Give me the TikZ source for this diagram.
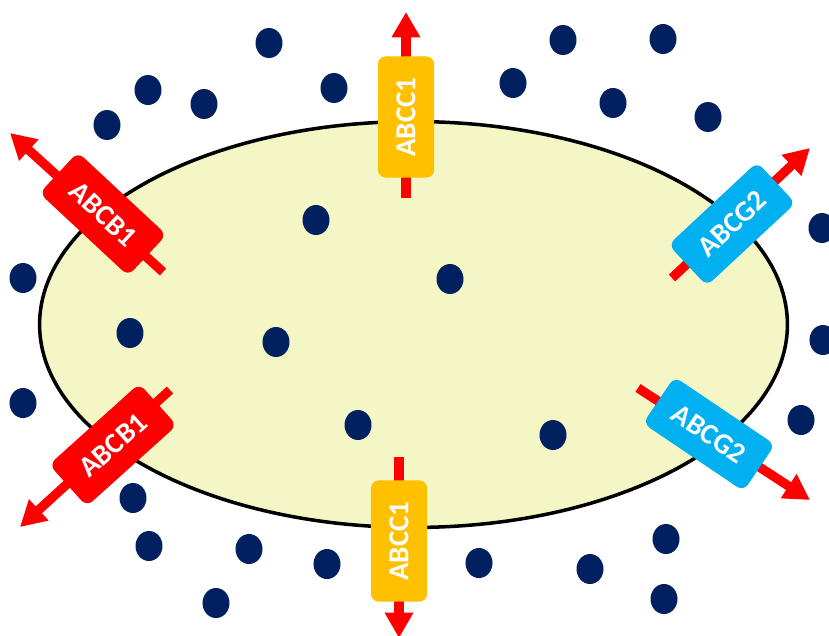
\documentclass[tikz,border=0pt]{standalone}
\usepackage{fontspec}
\setmainfont{Carlito}
\usetikzlibrary{arrows.meta}
\definecolor{cellfill}{HTML}{F5F6C6}
\definecolor{drug}{HTML}{002060}
\definecolor{efflux}{HTML}{FF0000}
\definecolor{pumpred}{HTML}{FF0000}
\definecolor{pumpyellow}{HTML}{FFC000}
\definecolor{pumpblue}{HTML}{00B0F0}

\begin{document}
\begin{tikzpicture}[x=0.02cm, y=-0.02cm,
  pump/.style={rectangle, rounded corners=4.5pt, minimum width=69pt,
    minimum height=32pt, inner sep=0pt, text=white,
    font=\fontsize{16.5}{18}\selectfont\bfseries},
  flow/.style={draw=efflux, line width=5.3pt,
    -{Triangle[width=15.5pt, length=14.5pt]}},
  molecule/.style={fill=drug}]
\useasboundingbox (0,0) rectangle (829,636);
\fill[white] (0,0) rectangle (829,636);

% the cell
\draw[fill=cellfill, line width=2pt] (413.5,324.5)
  ellipse [x radius=7.48cm, y radius=4.06cm];

% drug molecules, inside and outside the cell
\foreach \px/\py in {316/220, 450/279, 130/333, 276/342, 358/425, 553/435,
    269/43, 563/40, 663/39, 148/90, 204/104, 334/88, 513/83, 613/103, 708/117,
    107/125, 23/278, 23/403, 822/228, 823/340, 801/420,
    133/498, 149/546, 249/549, 327/564, 216/603, 479/563, 590/569,
    666/539, 664/599}
  \fill[molecule] (\px,\py) ellipse [x radius=0.27cm, y radius=0.30cm];

% efflux directions
\coordinate (c1t-in)  at (406,198);  \coordinate (c1t-out) at (406,12);
\coordinate (c1b-in)  at (399,457);  \coordinate (c1b-out) at (399,638);
\coordinate (b1t-in)  at (163,272);  \coordinate (b1t-out) at (10,133);
\coordinate (b1b-in)  at (170,390);  \coordinate (b1b-out) at (20,527);
\coordinate (g2t-in)  at (672,278);  \coordinate (g2t-out) at (810,148);
\coordinate (g2b-in)  at (638,388);  \coordinate (g2b-out) at (810,500);

\foreach \p in {c1t, c1b, b1t, b1b, g2t, g2b}
  \draw[flow] (\p-in) -- (\p-out);

% transporters
\node[pump, fill=pumpyellow, rotate=90]  (abcc1top) at (406,117) {ABCC1};
\node[pump, fill=pumpyellow, rotate=90]  (abcc1bot) at (399,541) {ABCC1};
\node[pump, fill=pumpred,    rotate=-43] (abcb1top) at (103,214) {ABCB1};
\node[pump, fill=pumpred,    rotate=42]  (abcb1bot) at (113,445) {ABCB1};
\node[pump, fill=pumpblue,   rotate=43]  (abcg2top) at (732,224) {ABCG2};
\node[pump, fill=pumpblue,   rotate=-34] (abcg2bot) at (709,434) {ABCG2};
\end{tikzpicture}
\end{document}
